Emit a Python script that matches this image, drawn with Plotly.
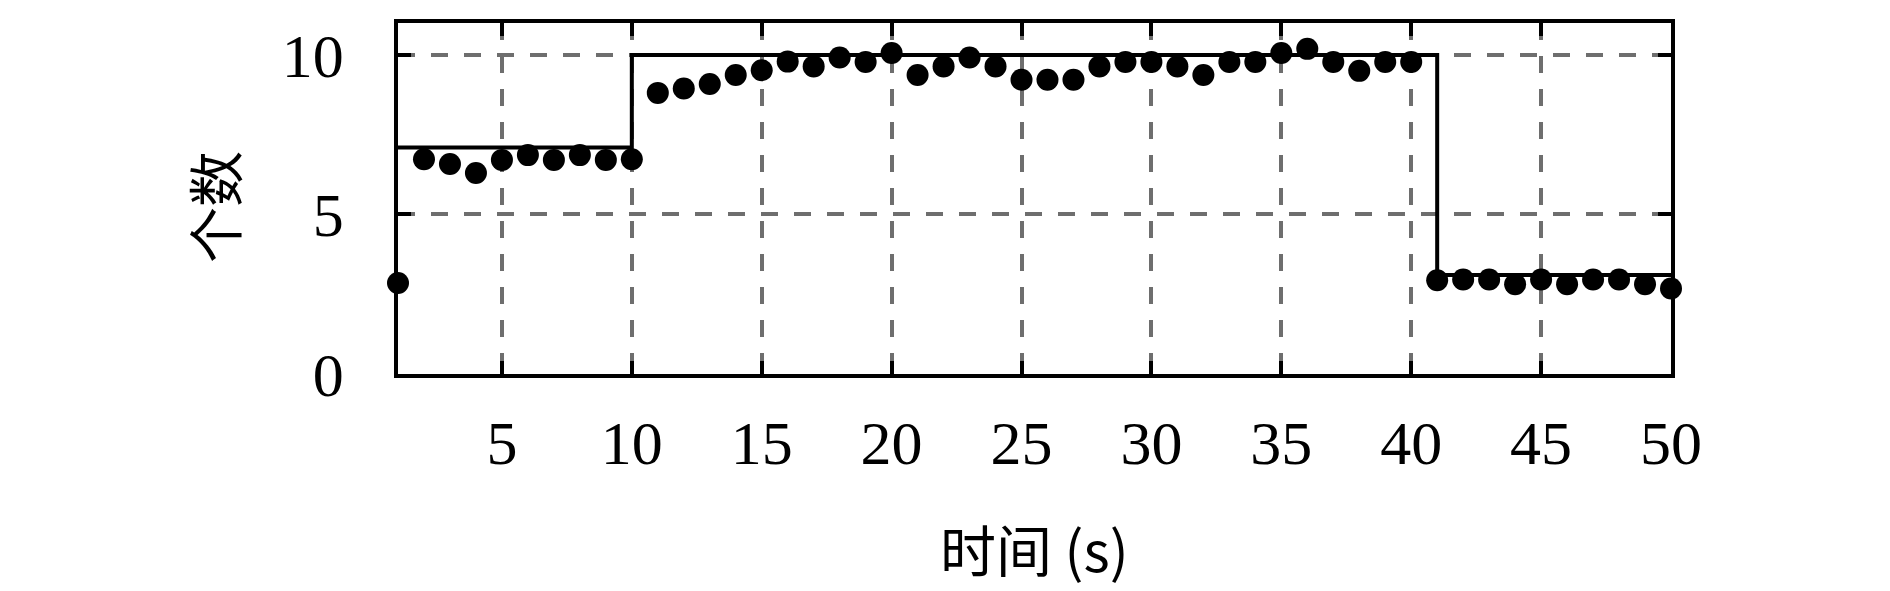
import plotly.graph_objects as go

# Data
time_s = list(range(1, 51))
counts = [2.85, 6.73, 6.58, 6.30, 6.71, 6.86, 6.71, 6.86, 6.71, 6.73,
          8.81, 8.95, 9.09, 9.37, 9.52, 9.79, 9.64, 9.92, 9.78, 10.06,
          9.37, 9.64, 9.92, 9.64, 9.22, 9.22, 9.22, 9.64, 9.78, 9.78,
          9.64, 9.37, 9.78, 9.78, 10.06, 10.19, 9.78, 9.50, 9.78, 9.78,
          2.94, 2.96, 2.96, 2.81, 2.96, 2.81, 2.96, 2.96, 2.81, 2.68]
step_x = [1, 10, 41, 50]
step_y = [7.1, 10, 3.1, 3.1]
x_ticks = [5, 10, 15, 20, 25, 30, 35, 40, 45, 50]
y_ticks = [0, 5, 10]

fig = go.Figure()
fig.add_trace(go.Scatter(x=step_x, y=step_y, mode="lines", line_shape="hv",
                         line=dict(color="black", width=4), cliponaxis=False,
                         showlegend=False))
fig.add_trace(go.Scatter(x=time_s, y=counts, mode="markers",
                         marker=dict(color="black", size=22), cliponaxis=False,
                         showlegend=False))

tickfont = dict(family="Liberation Serif", size=62, color="black")
fig.update_xaxes(range=[1, 50], tickvals=x_ticks, ticktext=[str(v) for v in x_ticks],
                 showline=True, linecolor="black", linewidth=3.5, mirror="ticks",
                 ticks="inside", ticklen=13, tickwidth=3.5, tickcolor="black",
                 showgrid=True, gridcolor="#6e6e6e", gridwidth=3.5, griddash="17px,16px",
                 zeroline=False, tickfont=tickfont, ticklabelstandoff=12)
fig.update_yaxes(range=[0, 11], tickvals=y_ticks, ticktext=[str(v) for v in y_ticks],
                 showline=True, linecolor="black", linewidth=3.5, mirror="ticks",
                 ticks="inside", ticklen=13, tickwidth=3.5, tickcolor="black",
                 showgrid=True, gridcolor="#6e6e6e", gridwidth=3.5, griddash="17px,16px",
                 zeroline=False, tickfont=tickfont, ticklabelstandoff=38)

fig.add_annotation(text="时间 (s)", xref="paper", yref="paper", x=0.5, y=-0.495,
                   showarrow=False, xanchor="center", yanchor="middle",
                   font=dict(family="Noto Sans CJK SC, Liberation Serif", size=56, color="black"))
fig.add_annotation(text="个数", xref="paper", yref="paper", x=-0.1453, y=0.476,
                   showarrow=False, xanchor="center", yanchor="middle", textangle=-90,
                   font=dict(family="Noto Sans CJK SC", size=56, color="black"))

fig.update_layout(width=1882, height=583, margin=dict(l=390, r=219, t=11, b=217),
                  plot_bgcolor="white", paper_bgcolor="white")
fig.write_html("out.html")
